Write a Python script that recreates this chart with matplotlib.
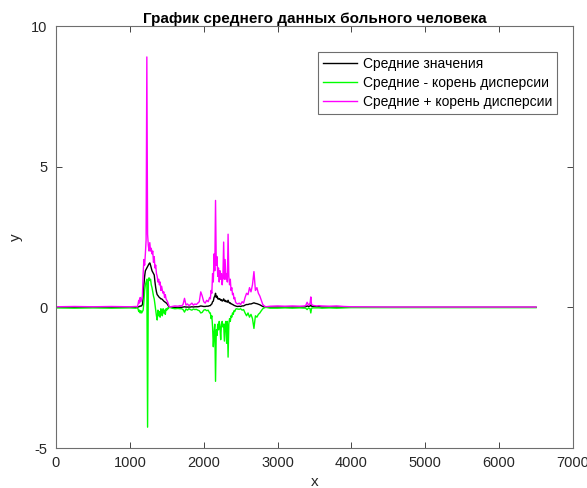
import numpy as np
import matplotlib
matplotlib.use("Agg")
import matplotlib.pyplot as plt

plt.rcParams['font.family'] = ['Liberation Sans', 'DejaVu Sans']
plt.rcParams['axes.unicode_minus'] = False

# flat start
x_a = [0, 250, 500, 750, 1000, 1080]
mean_a = [0, 0, 0, 0, 0, 0]
up_a = [0.02, 0.03, 0.02, 0.03, 0.02, 0.03]
lo_a = [-0.02, -0.03, -0.02, -0.03, -0.02, -0.03]

# first burst, step 10 from 1100
x_1 = np.arange(1100, 1541, 10)
mean_1 = [0, 0.01, 0.02, 0.03, 0.05, 0.04, 0.06, 0.1, 0.3, 0.8,
          1.1, 1.3, 1.35, 1.4, 1.45, 1.5, 1.55, 1.58, 1.5, 1.4,
          1.3, 1.25, 1.2, 1.15, 0.9, 0.7, 0.55, 0.45, 0.42, 0.38,
          0.35, 0.33, 0.3, 0.3, 0.28, 0.25, 0.22, 0.2, 0.18, 0.16,
          0.14, 0.1, 0.06, 0.02, 0]
up_1 = [0.02, 0.1, 0.25, 0.15, 0.35, 0.2, 0.3, 0.4, 1.2, 1.7,
        1.5, 1.9, 2.4, 8.9, 2.6, 2.2, 2.0, 2.3, 2.0, 2.1,
        1.9, 2.0, 1.6, 1.8, 1.4, 1.5, 1.2, 1.1, 0.9, 1.0,
        0.8, 0.9, 0.6, 0.75, 0.6, 0.5, 0.55, 0.35, 0.45, 0.3,
        0.25, 0.2, 0.12, 0.05, 0.01]
lo_1 = [-0.02, -0.05, -0.15, -0.1, -0.2, -0.12, -0.2, -0.15, -0.1, 0.2,
        0.6, 0.8, 0.9, 1.0, -4.26, 1.0, 1.05, 0.95, 1.0, 0.8,
        0.7, 0.55, 0.4, 0.3, 0.1, -0.1, -0.3, -0.45, -0.1, -0.3,
        -0.15, -0.35, -0.05, -0.25, -0.3, -0.05, -0.2, -0.1, -0.25, -0.05,
        -0.1, -0.02, -0.05, 0, 0]

# quiet gap
x_g = [1570, 1610, 1650, 1680]
mean_g = [0, 0, 0, 0]
up_g = [0.03, 0.05, 0.04, 0.06]
lo_g = [-0.03, -0.05, -0.04, -0.05]

# second burst
x_2a = np.arange(1700, 2081, 20)
mean_2a = [0, 0.01, 0.02, 0.01, 0.01, 0.01, 0.01, 0.02, 0.01, 0.02,
           0.02, 0.02, 0.03, 0.05, 0.04, 0.03, 0.03, 0.04, 0.04, 0.06]
up_2a = [0.05, 0.1, 0.32, 0.08, 0.12, 0.06, 0.1, 0.15, 0.08, 0.12,
         0.1, 0.15, 0.2, 0.55, 0.4, 0.2, 0.15, 0.25, 0.2, 0.35]
lo_2a = [-0.05, -0.08, -0.17, -0.06, -0.1, -0.05, -0.08, -0.1, -0.06, -0.08,
         -0.07, -0.1, -0.12, -0.2, -0.18, -0.1, -0.08, -0.12, -0.1, -0.2]

x_2b = np.arange(2090, 2441, 10)
mean_2b = [0.06, 0.1, 0.12, 0.2, 0.22, 0.35, 0.4, 0.5, 0.35, 0.4,
           0.3, 0.32, 0.28, 0.3, 0.25, 0.27, 0.22, 0.25, 0.3, 0.22,
           0.25, 0.2, 0.22, 0.18, 0.25, 0.18, 0.15, 0.16, 0.12, 0.12,
           0.1, 0.09, 0.07, 0.06, 0.05, 0.04]
up_2b = [0.3, 0.6, 0.5, 1.2, 0.9, 1.9, 1.3, 3.8, 1.5, 1.8,
         1.1, 1.4, 0.9, 1.3, 1.0, 1.2, 0.8, 1.1, 2.32, 1.0,
         1.7, 1.0, 1.2, 0.9, 2.6, 1.1, 0.8, 1.0, 0.6, 0.7,
         0.45, 0.5, 0.3, 0.35, 0.2, 0.15]
lo_2b = [-0.2, -0.4, -0.3, -0.7, -1.4, -0.9, -0.6, -2.63, -0.8, -1.0,
         -0.6, -0.8, -0.5, -0.7, -1.15, -0.6, -0.5, -0.7, -0.6, -1.2,
         -0.6, -0.5, -1.28, -0.5, -1.77, -0.6, -0.4, -0.5, -0.3, -0.35,
         -0.2, -0.25, -0.12, -0.15, -0.08, -0.05]

x_2c = np.arange(2460, 2841, 20)
mean_2c = [0.03, 0.04, 0.03, 0.05, 0.05, 0.08, 0.1, 0.1, 0.12, 0.12,
           0.14, 0.16, 0.14, 0.13, 0.11, 0.09, 0.06, 0.03, 0.01, 0]
up_2c = [0.12, 0.15, 0.1, 0.2, 0.15, 0.35, 0.5, 0.45, 0.7, 0.55,
         0.8, 1.27, 0.6, 0.7, 0.5, 0.4, 0.25, 0.1, 0.05, 0.02]
lo_2c = [-0.06, -0.07, -0.05, -0.1, -0.08, -0.2, -0.3, -0.2, -0.35, -0.25,
         -0.4, -0.75, -0.3, -0.35, -0.25, -0.2, -0.12, -0.05, -0.02, 0]

# quiet middle
x_m = [2900, 3000, 3100, 3200, 3300, 3360]
mean_m = [0.01, 0.01, 0.01, 0.01, 0.01, 0.01]
up_m = [0.04, 0.05, 0.04, 0.05, 0.04, 0.05]
lo_m = [-0.03, -0.03, -0.02, -0.03, -0.02, -0.03]

# small third burst
x_3 = [3380, 3400, 3420, 3440, 3450, 3460, 3480, 3500, 3530, 3560]
mean_3 = [0.02, 0.05, 0.03, 0.05, 0.08, 0.04, 0.03, 0.03, 0.02, 0.02]
up_3 = [0.06, 0.18, 0.07, 0.15, 0.37, 0.1, 0.07, 0.06, 0.05, 0.06]
lo_3 = [-0.03, -0.08, -0.02, -0.05, -0.2, -0.03, -0.02, -0.02, -0.02, -0.02]

# tail
x_t = [3600, 3700, 3800, 3900, 4000, 4500, 5000, 5500, 6000, 6500]
mean_t = [0.01, 0.01, 0.01, 0.005, 0, 0, 0, 0, 0, 0]
up_t = [0.05, 0.04, 0.05, 0.03, 0.02, 0.01, 0.01, 0.01, 0.01, 0.01]
lo_t = [-0.03, -0.02, -0.03, -0.02, -0.01, -0.01, -0.01, -0.01, -0.01, -0.01]

x = np.concatenate([x_a, x_1, x_g, x_2a, x_2b, x_2c, x_m, x_3, x_t])
mean = np.concatenate([mean_a, mean_1, mean_g, mean_2a, mean_2b, mean_2c, mean_m, mean_3, mean_t])
upper = np.concatenate([up_a, up_1, up_g, up_2a, up_2b, up_2c, up_m, up_3, up_t])
lower = np.concatenate([lo_a, lo_1, lo_g, lo_2a, lo_2b, lo_2c, lo_m, lo_3, lo_t])

fig = plt.figure(figsize=(5.87, 4.88), dpi=100)
ax = fig.add_axes([56/587, 40/488, 517/587, 422/488])

ax.plot(x, mean, color='k', lw=1.0, label='Средние значения')
ax.plot(x, lower, color=(0, 1, 0), lw=1.0, label='Средние - корень дисперсии')
ax.plot(x, upper, color=(1, 0, 1), lw=1.0, label='Средние + корень дисперсии')

ax.set_xlim(0, 7000)
ax.set_ylim(-5, 10)
ax.set_xticks([0, 1000, 2000, 3000, 4000, 5000, 6000, 7000])
ax.set_yticks([-5, 0, 5, 10])
ax.tick_params(direction='in', length=4, width=0.6, labelsize=10.5,
               colors='#262626', top=True, right=True)
ax.tick_params(axis='x', pad=6)
ax.tick_params(axis='y', pad=6)
for s in ax.spines.values():
    s.set_color('#6e6e6e')
    s.set_linewidth(0.8)

ax.set_title('График среднего данных больного человека', fontsize=11,
             fontweight='bold', pad=2)
ax.set_xlabel('x', fontsize=11, color='#262626', labelpad=3)
ax.set_ylabel('y', fontsize=11, color='#262626', labelpad=6)

leg = ax.legend(loc='upper right', bbox_to_anchor=(0.969, 0.938), borderaxespad=0,
                fontsize=10, fancybox=False, framealpha=1, edgecolor='#6e6e6e',
                handlelength=2.45, handletextpad=0.43, labelspacing=0.35,
                borderpad=0.35)
leg.get_frame().set_linewidth(0.8)

fig.savefig('out.png', dpi=100)
